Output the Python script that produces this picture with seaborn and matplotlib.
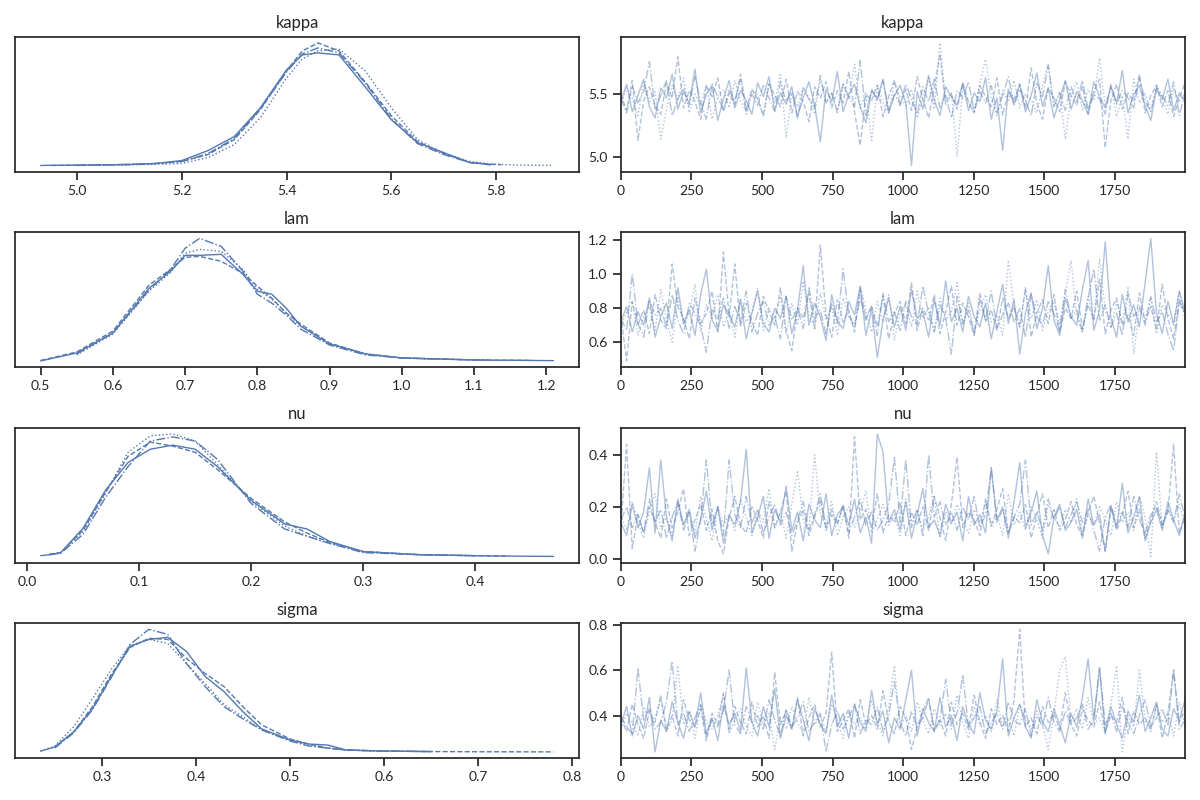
import numpy as np
import matplotlib
matplotlib.use("Agg")
import matplotlib.pyplot as plt
import seaborn as sns

# posterior variables, 4 chains each (solid, dashed, dotted, dashdot)
var_names = ["kappa", "lam", "nu", "sigma"]
chain_styles = ["-", "--", ":", "-."]
nan = np.nan

# density curves (arbitrary height units)
kappa_grid = [4.93, 4.95, 5.0, 5.1, 5.15, 5.2, 5.25, 5.3, 5.35, 5.4, 5.43, 5.46, 5.5,
              5.55, 5.6, 5.65, 5.7, 5.75, 5.79, 5.81, 5.85, 5.91]
kappa_kde = [
    [0, 0.2, 0.3, 1, 2, 5, 15, 29, 58, 96, 111, 113, 111, 79, 46, 23, 13, 3, 1, nan, nan, nan],
    [nan, 0, 0.3, 1, 2, 4, 11, 26, 56, 95, 115, 123, 115, 84, 50, 24, 12, 3, 1.2, 0.8, nan, nan],
    [nan, nan, 0, 0.6, 1.2, 2, 8, 21, 48, 88, 107, 115, 117, 95, 58, 26, 12, 4, 1.5, 1, 0.3, 0.2],
    [nan, nan, 0.2, 1, 2, 4, 12, 27, 57, 94, 112, 118, 113, 83, 47, 22, 11, 3, 0.5, nan, nan, nan],
]

lam_grid = [0.5, 0.55, 0.6, 0.65, 0.68, 0.7, 0.72, 0.75, 0.78, 0.8, 0.82, 0.84, 0.86,
            0.9, 0.95, 1.0, 1.05, 1.1, 1.12, 1.15, 1.18, 1.21]
lam_kde = [
    [0, 8, 28, 73, 90, 106, 106, 107, 87, 70, 67, 53, 35, 17, 7, 3, 2, 1, 0.8, 0.7, 0.5, 0.3],
    [0.5, 9, 30, 76, 92, 104, 105, 100, 88, 75, 63, 48, 37, 18, 7, 3, 2, 1, 0.8, 0.7, 0.6, nan],
    [nan, 6, 27, 70, 89, 108, 112, 110, 92, 72, 62, 48, 35, 17, 7, 3, 1.5, nan, nan, nan, nan, nan],
    [nan, 7, 28, 71, 92, 113, 123, 115, 90, 67, 58, 46, 32, 16, 6, 3, 2, 1, 1, nan, nan, nan],
]

nu_grid = [0.012, 0.02, 0.03, 0.05, 0.07, 0.09, 0.11, 0.13, 0.15, 0.17, 0.2, 0.23, 0.25,
           0.27, 0.3, 0.35, 0.4, 0.43, 0.47]
nu_kde = [
    [1, 2, 4, 28, 65, 92, 105, 109, 105, 88, 55, 32, 27, 15, 5, 2, 1, 0.6, 0.3],
    [nan, 2.5, 4, 26, 63, 98, 112, 108, 102, 85, 57, 34, 23, 14, 5, 2, 1, 0.6, nan],
    [nan, 2, 4, 25, 62, 102, 118, 120, 113, 90, 54, 30, 20, 13, 5, 2, 1, nan, nan],
    [nan, 2, 3.5, 22, 58, 88, 113, 117, 113, 95, 52, 27, 20, 13, 4, 2, 1, nan, nan],
]

sigma_grid = [0.235, 0.25, 0.27, 0.29, 0.31, 0.33, 0.35, 0.37, 0.39, 0.41, 0.43, 0.45,
              0.47, 0.5, 0.52, 0.54, 0.56, 0.6, 0.65, 0.7, 0.78]
sigma_kde = [
    [1, 5, 20, 43, 75, 105, 112, 114, 100, 75, 60, 40, 23, 12, 8, 7, 2, 1, 0.5, nan, nan],
    [nan, 5, 20, 45, 77, 104, 113, 112, 93, 78, 65, 45, 27, 13, 8, 4, 2, 1, 0.5, 0.3, 0.2],
    [1, 6, 25, 53, 82, 106, 112, 108, 88, 68, 47, 35, 22, 12, 7, 4, 2, 1, nan, nan, nan],
    [nan, 4, 19, 42, 74, 107, 122, 117, 88, 65, 45, 33, 22, 11, 6, 4, 2, 1, 0.5, nan, nan],
]

# trace values, coarse reading of the right column (spikes kept where seen)
kappa_trace = [
    [5.44, 5.58, 5.36, 5.49, 5.62, 5.40, 5.31, 5.55, 5.47, 5.66, 5.38, 5.52, 5.43, 5.70, 5.35, 5.50, 5.57, 5.29, 5.46, 5.61,
     5.39, 5.53, 5.45, 5.34, 5.59, 5.48, 5.64, 5.37, 5.51, 5.42, 5.56, 5.32, 5.47, 5.60, 5.41, 5.12, 5.54, 5.44, 5.68, 5.36,
     5.50, 5.58, 5.40, 5.27, 5.53, 5.46, 5.62, 5.35, 5.49, 5.57, 5.43, 4.93, 5.52, 5.38, 5.65, 5.45, 5.33, 5.56, 5.48, 5.41,
     5.59, 5.37, 5.51, 5.44, 5.63, 5.30, 5.47, 5.05, 5.54, 5.42, 5.58, 5.36, 5.49, 5.67, 5.40, 5.55, 5.31, 5.46, 5.61, 5.38,
     5.52, 5.45, 5.34, 5.60, 5.48, 5.39, 5.56, 5.43, 5.69, 5.35, 5.50, 5.57, 5.41, 5.29, 5.54, 5.46, 5.62, 5.37, 5.51, 5.44],
    [5.50, 5.37, 5.61, 5.13, 5.45, 5.56, 5.41, 5.34, 5.59, 5.47, 5.80, 5.39, 5.53, 5.44, 5.30, 5.57, 5.48, 5.63, 5.36, 5.51,
     5.42, 5.66, 5.38, 5.54, 5.46, 5.33, 5.58, 5.49, 5.40, 5.62, 5.35, 5.52, 5.44, 5.28, 5.56, 5.47, 5.60, 5.39, 5.53, 5.43,
     5.68, 5.36, 5.09, 5.50, 5.45, 5.57, 5.32, 5.48, 5.61, 5.41, 5.54, 5.37, 5.64, 5.46, 5.31, 5.55, 5.82, 5.42, 5.50, 5.38,
     5.59, 5.44, 5.35, 5.57, 5.48, 5.40, 5.63, 5.33, 5.52, 5.46, 5.58, 5.39, 5.71, 5.43, 5.30, 5.55, 5.47, 5.36, 5.60, 5.49,
     5.41, 5.56, 5.34, 5.52, 5.62, 5.07, 5.45, 5.58, 5.38, 5.51, 5.44, 5.66, 5.35, 5.49, 5.57, 5.40, 5.53, 5.32, 5.47, 5.59],
    [5.41, 5.55, 5.47, 5.33, 5.60, 5.44, 5.52, 5.14, 5.38, 5.57, 5.46, 5.63, 5.35, 5.50, 5.42, 5.58, 5.30, 5.48, 5.54, 5.39,
     5.61, 5.45, 5.36, 5.53, 5.49, 5.32, 5.59, 5.43, 5.67, 5.15, 5.51, 5.40, 5.56, 5.47, 5.34, 5.62, 5.44, 5.50, 5.37, 5.58,
     5.46, 5.74, 5.39, 5.52, 5.13, 5.57, 5.43, 5.35, 5.60, 5.48, 5.41, 5.54, 5.31, 5.47, 5.63, 5.38, 5.91, 5.45, 5.51, 5.00,
     5.56, 5.42, 5.36, 5.59, 5.78, 5.47, 5.33, 5.53, 5.44, 5.61, 5.39, 5.50, 5.46, 5.35, 5.57, 5.74, 5.41, 5.52, 5.14, 5.48,
     5.60, 5.37, 5.54, 5.45, 5.79, 5.40, 5.56, 5.32, 5.49, 5.14, 5.62, 5.43, 5.51, 5.36, 5.58, 5.47, 5.34, 5.55, 5.44, 5.50],
    [5.47, 5.35, 5.57, 5.43, 5.52, 5.76, 5.38, 5.49, 5.61, 5.33, 5.46, 5.55, 5.40, 5.64, 5.44, 5.30, 5.58, 5.48, 5.37, 5.53,
     5.45, 5.62, 5.34, 5.50, 5.41, 5.57, 5.47, 5.36, 5.60, 5.44, 5.52, 5.31, 5.55, 5.46, 5.39, 5.65, 5.43, 5.51, 5.35, 5.58,
     5.48, 5.40, 5.77, 5.33, 5.54, 5.45, 5.61, 5.37, 5.50, 5.42, 5.58, 5.46, 5.34, 5.56, 5.44, 5.62, 5.39, 5.49, 5.31, 5.53,
     5.47, 5.60, 5.36, 5.52, 5.43, 5.57, 5.35, 5.49, 5.64, 5.41, 5.54, 5.45, 5.33, 5.59, 5.48, 5.73, 5.40, 5.51, 5.37, 5.56,
     5.44, 5.61, 5.38, 5.50, 5.46, 5.34, 5.58, 5.42, 5.53, 5.47, 5.39, 5.63, 5.45, 5.36, 5.55, 5.49, 5.41, 5.60, 5.33, 5.52],
]

lam_trace = [
    [0.72, 0.81, 0.66, 0.78, 0.70, 0.86, 0.63, 0.75, 0.83, 0.68, 0.92, 0.71, 0.79, 0.64, 0.88, 1.03, 0.73, 0.67, 0.82, 0.76,
     0.69, 0.85, 0.62, 0.77, 0.90, 0.71, 0.66, 0.80, 0.74, 0.87, 0.65, 0.79, 1.05, 0.70, 0.83, 0.75, 0.61, 0.88, 0.72, 0.68,
     0.84, 0.76, 0.93, 0.64, 0.79, 0.51, 0.73, 0.86, 0.69, 0.81, 0.67, 0.91, 0.74, 0.78, 0.63, 0.85, 0.70, 0.96, 0.72, 0.80,
     0.66, 0.87, 0.75, 0.69, 0.83, 0.62, 0.78, 0.94, 0.71, 0.85, 0.53, 0.77, 0.89, 0.68, 0.80, 1.05, 0.73, 0.64, 0.86, 0.75,
     0.70, 0.91, 1.08, 0.67, 0.79, 1.19, 0.74, 0.63, 0.88, 0.72, 0.82, 0.69, 0.95, 1.21, 0.77, 0.65, 0.84, 0.71, 0.90, 0.78],
    [0.76, 0.49, 0.84, 0.70, 0.79, 0.65, 0.88, 0.73, 0.68, 1.06, 0.81, 0.74, 0.62, 0.86, 0.71, 0.77, 0.90, 0.66, 1.13, 0.75,
     1.06, 0.69, 0.83, 0.72, 0.64, 0.87, 0.78, 0.70, 0.92, 0.67, 0.55, 0.80, 0.74, 0.89, 0.68, 1.17, 0.76, 0.63, 0.85, 0.72,
     0.79, 0.66, 0.91, 0.74, 0.81, 0.69, 0.87, 0.62, 0.77, 0.84, 0.71, 0.95, 0.67, 0.80, 0.73, 0.88, 0.65, 0.78, 0.93, 0.70,
     0.83, 0.75, 0.64, 0.89, 0.72, 0.79, 0.67, 0.86, 0.74, 0.81, 0.69, 0.92, 0.63, 0.77, 0.85, 0.71, 0.88, 0.66, 0.80, 0.74,
     0.90, 0.68, 0.82, 0.73, 0.97, 0.65, 0.79, 0.86, 0.70, 0.76, 0.64, 0.89, 0.72, 0.81, 0.67, 0.94, 0.74, 0.62, 0.85, 0.77],
    [0.69, 0.78, 0.84, 0.64, 0.75, 0.81, 0.67, 0.91, 0.73, 0.60, 0.86, 0.71, 0.77, 0.94, 0.66, 0.82, 0.74, 0.88, 0.69, 0.79,
     0.63, 0.85, 0.72, 0.78, 0.92, 0.67, 0.80, 0.74, 0.87, 0.65, 0.83, 0.70, 0.96, 0.76, 0.68, 0.89, 0.73, 0.81, 0.64, 0.86,
     0.75, 0.70, 0.93, 0.79, 0.66, 0.84, 0.72, 0.88, 0.61, 0.77, 0.82, 0.69, 0.90, 0.74, 0.80, 0.67, 0.86, 0.73, 0.78, 0.95,
     0.70, 0.83, 0.65, 0.79, 0.88, 0.72, 0.76, 0.64, 1.08, 0.81, 0.69, 0.91, 0.74, 0.85, 0.67, 0.78, 0.83, 0.71, 0.89, 1.08,
     0.75, 0.66, 0.87, 0.73, 1.09, 0.79, 0.68, 0.84, 0.71, 0.92, 0.53, 0.80, 0.74, 0.86, 0.65, 0.82, 0.77, 0.70, 0.90, 0.73],
    [0.74, 0.67, 1.00, 0.71, 0.63, 0.85, 0.76, 0.80, 0.69, 0.88, 0.73, 0.65, 0.83, 0.77, 0.70, 0.54, 0.79, 0.74, 0.86, 0.68,
     0.81, 0.72, 0.90, 0.66, 0.77, 0.84, 0.70, 0.75, 0.62, 0.87, 0.73, 0.80, 0.68, 0.92, 0.74, 0.79, 0.65, 0.83, 0.71, 1.03,
     0.76, 0.69, 0.86, 0.73, 0.81, 0.64, 0.89, 0.72, 0.78, 0.67, 0.84, 0.75, 0.70, 0.93, 0.77, 0.66, 0.82, 0.74, 0.53, 0.87,
     0.71, 0.79, 0.65, 0.85, 0.73, 0.90, 0.68, 0.76, 0.83, 0.72, 0.80, 0.63, 0.88, 0.75, 0.70, 0.84, 0.77, 0.67, 0.91, 0.74,
     0.79, 0.66, 0.86, 1.03, 0.73, 0.82, 0.69, 0.77, 0.64, 0.89, 0.75, 0.81, 0.70, 0.87, 0.72, 0.78, 0.65, 0.55, 0.84, 0.76],
]

nu_trace = [
    [0.14, 0.09, 0.21, 0.12, 0.18, 0.35, 0.10, 0.38, 0.16, 0.07, 0.23, 0.13, 0.19, 0.08, 0.15, 0.26, 0.11, 0.20, 0.06, 0.17,
     0.13, 0.22, 0.42, 0.10, 0.16, 0.24, 0.08, 0.19, 0.14, 0.28, 0.11, 0.18, 0.07, 0.21, 0.15, 0.12, 0.25, 0.09, 0.17, 0.20,
     0.13, 0.23, 0.10, 0.16, 0.06, 0.48, 0.41, 0.14, 0.19, 0.11, 0.22, 0.08, 0.17, 0.27, 0.12, 0.15, 0.09, 0.21, 0.14, 0.18,
     0.07, 0.24, 0.13, 0.17, 0.10, 0.35, 0.15, 0.20, 0.08, 0.22, 0.37, 0.12, 0.18, 0.26, 0.09, 0.02, 0.16, 0.21, 0.11, 0.14,
     0.19, 0.08, 0.23, 0.13, 0.17, 0.03, 0.20, 0.12, 0.29, 0.10, 0.16, 0.24, 0.07, 0.14, 0.19, 0.11, 0.22, 0.15, 0.09, 0.18],
    [0.12, 0.44, 0.04, 0.17, 0.10, 0.20, 0.14, 0.08, 0.23, 0.12, 0.18, 0.27, 0.09, 0.15, 0.21, 0.11, 0.19, 0.07, 0.02, 0.16,
     0.24, 0.13, 0.10, 0.20, 0.15, 0.08, 0.22, 0.12, 0.18, 0.26, 0.03, 0.14, 0.19, 0.09, 0.16, 0.23, 0.11, 0.17, 0.13, 0.21,
     0.08, 0.47, 0.15, 0.19, 0.12, 0.25, 0.10, 0.17, 0.14, 0.22, 0.09, 0.18, 0.13, 0.20, 0.11, 0.24, 0.16, 0.07, 0.21, 0.39,
     0.12, 0.18, 0.15, 0.09, 0.23, 0.13, 0.19, 0.27, 0.10, 0.16, 0.14, 0.21, 0.08, 0.17, 0.25, 0.12, 0.19, 0.11, 0.15, 0.22,
     0.13, 0.09, 0.18, 0.24, 0.14, 0.03, 0.20, 0.11, 0.17, 0.26, 0.12, 0.19, 0.08, 0.15, 0.22, 0.13, 0.18, 0.44, 0.10, 0.16],
    [0.17, 0.11, 0.22, 0.14, 0.08, 0.19, 0.25, 0.12, 0.16, 0.09, 0.21, 0.13, 0.18, 0.10, 0.24, 0.15, 0.07, 0.20, 0.13, 0.17,
     0.11, 0.23, 0.16, 0.09, 0.19, 0.14, 0.27, 0.12, 0.18, 0.08, 0.21, 0.34, 0.15, 0.11, 0.40, 0.17, 0.13, 0.22, 0.09, 0.16,
     0.20, 0.12, 0.18, 0.26, 0.10, 0.15, 0.21, 0.13, 0.17, 0.09, 0.23, 0.14, 0.19, 0.11, 0.16, 0.24, 0.08, 0.18, 0.13, 0.21,
     0.15, 0.10, 0.19, 0.14, 0.22, 0.12, 0.17, 0.09, 0.25, 0.13, 0.18, 0.11, 0.20, 0.15, 0.08, 0.21, 0.16, 0.12, 0.19, 0.14,
     0.23, 0.10, 0.17, 0.13, 0.20, 0.15, 0.09, 0.22, 0.14, 0.18, 0.11, 0.24, 0.16, 0.01, 0.41, 0.12, 0.19, 0.15, 0.21, 0.13],
    [0.15, 0.20, 0.12, 0.17, 0.10, 0.23, 0.14, 0.19, 0.08, 0.16, 0.22, 0.11, 0.18, 0.03, 0.15, 0.38, 0.13, 0.20, 0.09, 0.38,
     0.17, 0.12, 0.24, 0.14, 0.19, 0.10, 0.16, 0.21, 0.13, 0.18, 0.09, 0.15, 0.22, 0.11, 0.17, 0.25, 0.12, 0.19, 0.14, 0.20,
     0.10, 0.16, 0.23, 0.13, 0.18, 0.11, 0.15, 0.21, 0.39, 0.14, 0.38, 0.12, 0.19, 0.09, 0.40, 0.16, 0.22, 0.13, 0.18, 0.11,
     0.20, 0.15, 0.24, 0.12, 0.17, 0.35, 0.14, 0.19, 0.10, 0.16, 0.21, 0.38, 0.13, 0.18, 0.11, 0.23, 0.15, 0.20, 0.12, 0.17,
     0.22, 0.14, 0.19, 0.11, 0.03, 0.16, 0.21, 0.13, 0.18, 0.12, 0.24, 0.15, 0.10, 0.17, 0.20, 0.13, 0.19, 0.14, 0.25, 0.16],
]

sigma_trace = [
    [0.36, 0.44, 0.31, 0.40, 0.34, 0.48, 0.24, 0.38, 0.33, 0.46, 0.37, 0.30, 0.42, 0.35, 0.50, 0.32, 0.39, 0.29, 0.45, 0.36,
     0.41, 0.33, 0.61, 0.37, 0.31, 0.44, 0.35, 0.52, 0.30, 0.40, 0.34, 0.47, 0.38, 0.29, 0.43, 0.36, 0.32, 0.49, 0.35, 0.41,
     0.30, 0.45, 0.37, 0.33, 0.51, 0.36, 0.42, 0.28, 0.39, 0.34, 0.47, 0.60, 0.31, 0.43, 0.37, 0.33, 0.48, 0.35, 0.40, 0.29,
     0.44, 0.36, 0.32, 0.50, 0.38, 0.34, 0.42, 0.65, 0.31, 0.39, 0.45, 0.35, 0.30, 0.47, 0.37, 0.33, 0.43, 0.36, 0.28, 0.41,
     0.35, 0.48, 0.65, 0.38, 0.61, 0.32, 0.44, 0.36, 0.30, 0.42, 0.37, 0.49, 0.33, 0.39, 0.46, 0.34, 0.31, 0.43, 0.38, 0.47],
    [0.39, 0.33, 0.45, 0.36, 0.30, 0.42, 0.37, 0.49, 0.34, 0.40, 0.31, 0.47, 0.38, 0.35, 0.43, 0.29, 0.41, 0.36, 0.50, 0.33,
     0.44, 0.37, 0.32, 0.46, 0.35, 0.40, 0.30, 0.59, 0.36, 0.42, 0.34, 0.48, 0.31, 0.39, 0.45, 0.35, 0.41, 0.68, 0.33, 0.38,
     0.43, 0.30, 0.47, 0.36, 0.40, 0.34, 0.51, 0.37, 0.32, 0.44, 0.39, 0.25, 0.35, 0.42, 0.48, 0.33, 0.38, 0.31, 0.46, 0.36,
     0.41, 0.34, 0.49, 0.37, 0.30, 0.43, 0.36, 0.40, 0.33, 0.47, 0.78, 0.35, 0.39, 0.32, 0.44, 0.37, 0.41, 0.34, 0.50, 0.36,
     0.31, 0.43, 0.38, 0.35, 0.46, 0.33, 0.40, 0.37, 0.48, 0.32, 0.42, 0.36, 0.39, 0.34, 0.45, 0.30, 0.41, 0.60, 0.37, 0.43],
    [0.34, 0.41, 0.37, 0.31, 0.44, 0.35, 0.39, 0.47, 0.33, 0.38, 0.62, 0.36, 0.42, 0.30, 0.45, 0.37, 0.34, 0.40, 0.49, 0.32,
     0.38, 0.43, 0.35, 0.31, 0.46, 0.36, 0.41, 0.25, 0.39, 0.34, 0.44, 0.37, 0.32, 0.48, 0.36, 0.40, 0.33, 0.45, 0.38, 0.30,
     0.42, 0.36, 0.39, 0.34, 0.47, 0.37, 0.31, 0.44, 0.62, 0.35, 0.40, 0.33, 0.46, 0.38, 0.32, 0.43, 0.36, 0.41, 0.34, 0.49,
     0.37, 0.30, 0.44, 0.36, 0.40, 0.33, 0.47, 0.35, 0.39, 0.31, 0.45, 0.38, 0.34, 0.42, 0.36, 0.25, 0.41, 0.60, 0.66, 0.37,
     0.43, 0.34, 0.48, 0.36, 0.39, 0.32, 0.45, 0.62, 0.24, 0.40, 0.35, 0.60, 0.38, 0.33, 0.44, 0.37, 0.41, 0.31, 0.46, 0.36],
    [0.40, 0.35, 0.32, 0.61, 0.38, 0.43, 0.34, 0.37, 0.46, 0.64, 0.36, 0.41, 0.33, 0.39, 0.45, 0.31, 0.38, 0.35, 0.42, 0.60,
     0.36, 0.32, 0.44, 0.37, 0.40, 0.34, 0.47, 0.38, 0.31, 0.43, 0.35, 0.39, 0.46, 0.33, 0.37, 0.41, 0.24, 0.36, 0.42, 0.34,
     0.39, 0.45, 0.32, 0.38, 0.36, 0.44, 0.33, 0.40, 0.55, 0.37, 0.31, 0.42, 0.35, 0.39, 0.47, 0.34, 0.38, 0.56, 0.36, 0.41,
     0.58, 0.35, 0.39, 0.44, 0.32, 0.37, 0.41, 0.34, 0.46, 0.38, 0.36, 0.43, 0.31, 0.40, 0.35, 0.48, 0.37, 0.33, 0.42, 0.36,
     0.39, 0.45, 0.34, 0.38, 0.61, 0.36, 0.41, 0.33, 0.44, 0.37, 0.32, 0.40, 0.47, 0.35, 0.39, 0.43, 0.36, 0.60, 0.34, 0.38],
]

n_draws = 2000

grids = {"kappa": kappa_grid, "lam": lam_grid, "nu": nu_grid, "sigma": sigma_grid}
kdes = {"kappa": kappa_kde, "lam": lam_kde, "nu": nu_kde, "sigma": sigma_kde}
traces = {"kappa": kappa_trace, "lam": lam_trace, "nu": nu_trace, "sigma": sigma_trace}

sns.set_theme(style="ticks")
plt.rcParams["font.family"] = ["Lato", "DejaVu Sans"]
color = "#5479b1"

fig, axes = plt.subplots(4, 2, figsize=(12, 8), dpi=100)
fig.subplots_adjust(left=0.0125, right=0.9875, top=0.954, bottom=0.0525,
                    hspace=0.45, wspace=0.074)

for row, name in enumerate(var_names):
    ax_k, ax_t = axes[row]
    grid = np.array(grids[name])
    for c in range(4):
        dens = np.array(kdes[name][c], dtype=float)
        ok = ~np.isnan(dens)
        sns.lineplot(x=grid[ok], y=dens[ok], ax=ax_k, color=color, lw=1.0,
                     linestyle=chain_styles[c], sort=False, estimator=None)
        vals = np.array(traces[name][c])
        draws = np.linspace(0, n_draws - 1, len(vals))
        sns.lineplot(x=draws, y=vals, ax=ax_t, color=color, lw=1.0, alpha=0.45,
                     linestyle=chain_styles[c], sort=False, estimator=None)
    ax_k.set_yticks([])
    ax_k.set_ylabel("")
    ax_t.set_xlim(0, n_draws - 1)
    ax_t.set_xticks([0, 250, 500, 750, 1000, 1250, 1500, 1750])
    for ax in (ax_k, ax_t):
        ax.set_title(name, fontsize=12)
        ax.tick_params(labelsize=10)

plt.savefig("out.png", dpi=100)
